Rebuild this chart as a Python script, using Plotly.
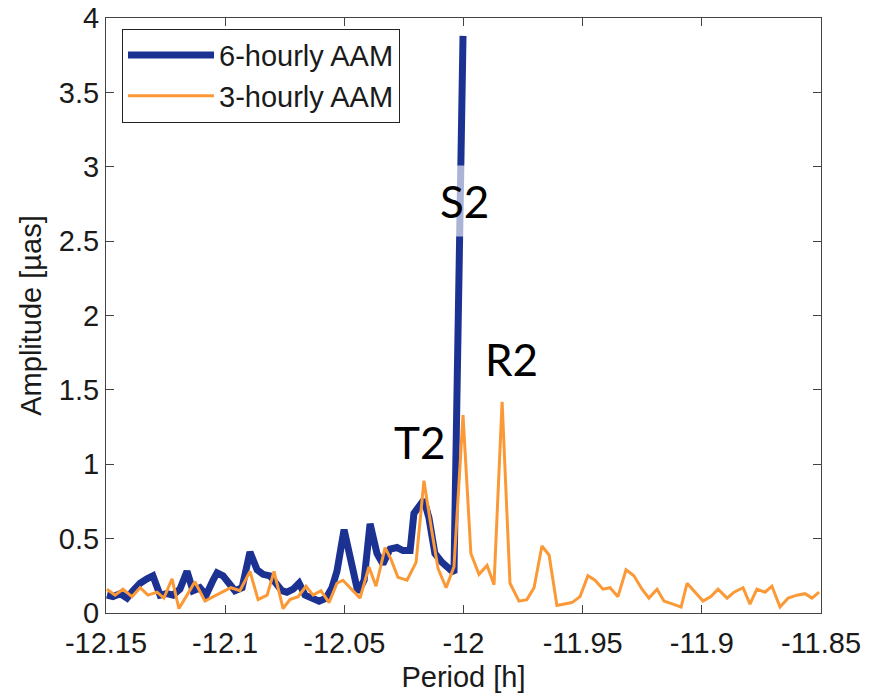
import plotly.graph_objects as go

# ---- data ----
period_6h = [-12.1496, -12.1471, -12.1441, -12.1412, -12.1387, -12.1357, -12.1328, -12.1303,
             -12.1273, -12.1244, -12.1219, -12.1190, -12.1160, -12.1135, -12.1106, -12.1080,
             -12.1051, -12.1034, -12.1009, -12.0980, -12.0959, -12.0929, -12.0896, -12.0866,
             -12.0841, -12.0812, -12.0787, -12.0762, -12.0741, -12.0715, -12.0690, -12.0665,
             -12.0636, -12.0606, -12.0577, -12.0552, -12.0531, -12.0501, -12.0472, -12.0443,
             -12.0417, -12.0392, -12.0363, -12.0338, -12.0308, -12.0279, -12.0254, -12.0224,
             -12.0208, -12.0183, -12.0166, -12.0145, -12.0120, -12.0090, -12.0065, -12.0040,
             -12.0002]
amp_6h = [0.12, 0.11, 0.13, 0.10, 0.15, 0.20, 0.23, 0.25,
          0.12, 0.13, 0.12, 0.16, 0.28, 0.15, 0.17, 0.12,
          0.22, 0.27, 0.25, 0.20, 0.15, 0.17, 0.41, 0.29,
          0.26, 0.25, 0.19, 0.15, 0.14, 0.16, 0.20, 0.12,
          0.10, 0.08, 0.10, 0.17, 0.28, 0.56, 0.35, 0.14,
          0.22, 0.60, 0.40, 0.33, 0.43, 0.44, 0.42, 0.42,
          0.67, 0.73, 0.76, 0.64, 0.40, 0.34, 0.31, 0.27,
          3.88]

period_3h = [-12.1496, -12.1462, -12.1429, -12.1391, -12.1357, -12.1324, -12.1286, -12.1257,
             -12.1223, -12.1194, -12.1160, -12.1127, -12.1085, -12.1051, -12.1013, -12.0976,
             -12.0938, -12.0896, -12.0862, -12.0824, -12.0795, -12.0757, -12.0728, -12.0694,
             -12.0661, -12.0631, -12.0598, -12.0564, -12.0531, -12.0506, -12.0472, -12.0434,
             -12.0397, -12.0367, -12.0329, -12.0304, -12.0275, -12.0237, -12.0199, -12.0166,
             -12.0136, -12.0107, -12.0073, -12.0040, -12.0002, -11.9969, -11.9935, -11.9901,
             -11.9872, -11.9838, -11.9805, -11.9767, -11.9734, -11.9704, -11.9671, -11.9641,
             -11.9608, -11.9578, -11.9545, -11.9511, -11.9478, -11.9448, -11.9415, -11.9385,
             -11.9352, -11.9318, -11.9285, -11.9251, -11.9222, -11.9188, -11.9159, -11.9121,
             -11.9087, -11.9062, -11.9029, -11.8995, -11.8962, -11.8932, -11.8894, -11.8865,
             -11.8827, -11.8798, -11.8769, -11.8735, -11.8706, -11.8672, -11.8638, -11.8601,
             -11.8567, -11.8538, -11.8508]
amp_3h = [0.16, 0.12, 0.16, 0.11, 0.17, 0.12, 0.14, 0.10,
          0.23, 0.03, 0.12, 0.21, 0.08, 0.11, 0.14, 0.17,
          0.15, 0.28, 0.09, 0.12, 0.28, 0.03, 0.09, 0.11,
          0.18, 0.12, 0.15, 0.07, 0.20, 0.22, 0.16, 0.10,
          0.31, 0.18, 0.44, 0.36, 0.24, 0.22, 0.34, 0.89,
          0.58, 0.30, 0.17, 0.31, 1.33, 0.40, 0.26, 0.32,
          0.19, 1.42, 0.20, 0.08, 0.09, 0.17, 0.45, 0.39,
          0.05, 0.06, 0.07, 0.11, 0.25, 0.22, 0.16, 0.17,
          0.11, 0.29, 0.25, 0.16, 0.10, 0.16, 0.08, 0.06,
          0.04, 0.20, 0.14, 0.08, 0.11, 0.16, 0.10, 0.14,
          0.17, 0.06, 0.16, 0.14, 0.18, 0.04, 0.10, 0.12,
          0.13, 0.10, 0.14]

x_ticks = [-12.15, -12.1, -12.05, -12.0, -11.95, -11.9, -11.85]
x_ticktext = ["-12.15", "-12.1", "-12.05", "-12", "-11.95", "-11.9", "-11.85"]
y_ticks = [0, 0.5, 1, 1.5, 2, 2.5, 3, 3.5, 4]
y_ticktext = ["0", "0.5", "1", "1.5", "2", "2.5", "3", "3.5", "4"]

labels = ["S2", "T2", "R2"]
label_x = [-11.9994, -12.0183, -11.9797]
label_y = [2.77, 1.15, 1.71]

BLUE = "#1b3293"
ORANGE = "#fb9936"
AXFONT = dict(family="Liberation Sans, Arial, sans-serif", size=29, color="#1a1a1a")

fig = go.Figure()
fig.add_trace(go.Scatter(x=period_6h, y=amp_6h, mode="lines", name="6-hourly AAM",
                         line=dict(color=BLUE, width=7)))
fig.add_trace(go.Scatter(x=period_3h, y=amp_3h, mode="lines", name="3-hourly AAM",
                         line=dict(color=ORANGE, width=3)))

for i, (t, xv, yv) in enumerate(zip(labels, label_x, label_y)):
    fig.add_annotation(x=xv, y=yv, text=t, showarrow=False,
                       font=dict(family="Lato, Open Sans, sans-serif", size=44, color="black"),
                       bgcolor="rgba(255,255,255,0.63)" if i == 0 else None,
                       borderpad=9 if i == 0 else 1)

axis_common = dict(showline=True, linecolor="#444444", linewidth=1, mirror="ticks",
                   ticks="inside", ticklen=8, tickcolor="#444444", showgrid=False,
                   zeroline=False, tickfont=AXFONT, automargin=False)

fig.update_layout(
    width=877, height=693,
    margin=dict(l=106, r=56, t=18, b=80),
    paper_bgcolor="white", plot_bgcolor="white",
    showlegend=True,
    legend=dict(x=0.0224, y=0.982, xanchor="left", yanchor="top",
                bgcolor="white", bordercolor="#222222", borderwidth=1,
                font=dict(family="Liberation Sans, Arial, sans-serif", size=29, color="#1a1a1a"),
                itemwidth=86, tracegroupgap=0),
    xaxis=dict(range=[-12.15, -11.85], tickvals=x_ticks, ticktext=x_ticktext,
               ticklabelstandoff=4,
               title=dict(text="Period [h]", font=AXFONT, standoff=8), **axis_common),
    yaxis=dict(range=[0, 4], tickvals=y_ticks, ticktext=y_ticktext,
               title=dict(text="Amplitude [µas]", font=AXFONT, standoff=8), **axis_common),
)

fig.write_html("out.html")
